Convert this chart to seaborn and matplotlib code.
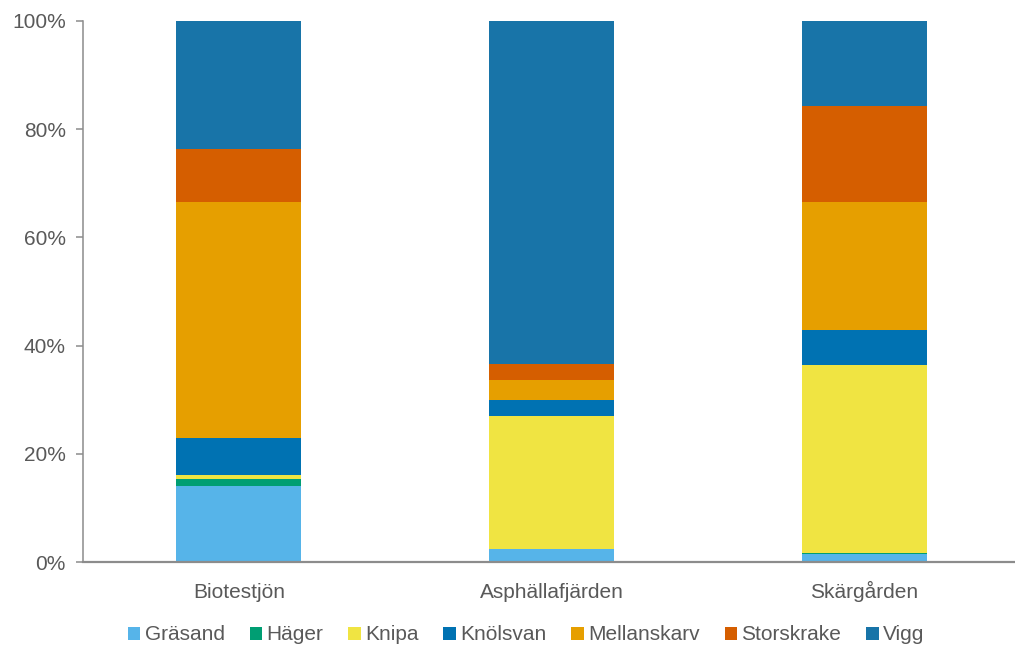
import matplotlib
matplotlib.use("Agg")
import matplotlib.pyplot as plt
from matplotlib.patches import Patch
from matplotlib.ticker import FuncFormatter, FixedLocator
import seaborn as sns
import numpy as np

sites = ["Biotestjön", "Asphällafjärden", "Skärgården"]
species = ["Gräsand", "Häger", "Knipa", "Knölsvan", "Mellanskarv", "Storskrake", "Vigg"]

# share of each species per site (%)
grasand = [14.0, 2.4, 1.4]
hager = [1.4, 0.0, 0.2]
knipa = [0.6, 24.5, 34.9]
knolsvan = [7.0, 3.1, 6.3]
mellanskarv = [43.5, 3.6, 23.7]
storskrake = [9.8, 3.0, 17.8]
vigg = [23.7, 63.4, 15.7]

series = [grasand, hager, knipa, knolsvan, mellanskarv, storskrake, vigg]
colors = ["#56B4E9", "#009E73", "#F0E442", "#0072B2", "#E69F00", "#D55E00", "#1874A8"]

sns.set_style("white")
plt.rcParams["font.family"] = ["Liberation Sans", "DejaVu Sans"]
text_color = "#595959"
axis_color = "#8C8C8C"
fs = 15

fig = plt.figure(figsize=(10.15, 6.52), dpi=100)
W, H = 1015, 652
ax = fig.add_axes([82.5 / W, (H - 562) / H, (1021 - 82.5) / W, (562 - 21) / H])

bottom = np.zeros(len(sites))
for name, vals, col in zip(species, series, colors):
    sns.barplot(x=sites, y=vals, bottom=bottom.copy(), color=col, width=0.4,
                saturation=1, ax=ax, linewidth=0, edgecolor="none")
    bottom += np.array(vals)

ax.set_xlim(-0.5, 2.5)
ax.set_ylim(0, 100)
ax.set_yticks([0, 20, 40, 60, 80, 100])
ax.yaxis.set_major_formatter(FuncFormatter(lambda v, p: f"{v:.0f}%"))
ax.set_xticks([0, 1, 2])
ax.set_xticklabels(sites, va="baseline")
ax.xaxis.set_minor_locator(FixedLocator([0.5, 1.5]))
ax.tick_params(axis="x", which="major", length=0, pad=26, labelsize=fs, colors=text_color)
ax.tick_params(axis="x", which="minor", length=6, width=1.3, color=axis_color, direction="out")
ax.tick_params(axis="y", length=5, width=1.1, color=axis_color, labelsize=fs,
               labelcolor=text_color, pad=7, left=True)
ax.set_xlabel("")
ax.set_ylabel("")
for s in ["top", "right"]:
    ax.spines[s].set_visible(False)
ax.spines["left"].set_color(axis_color)
ax.spines["left"].set_linewidth(1.1)
ax.spines["bottom"].set_color(axis_color)
ax.spines["bottom"].set_linewidth(1.6)
ax.spines["bottom"].set_zorder(5)

handles = [Patch(facecolor=c, edgecolor="none", label=n) for n, c in zip(species, colors)]
leg = fig.legend(handles=handles, loc="center", bbox_to_anchor=(526 / W, 1 - 635 / H),
                 ncol=7, frameon=False, fontsize=fs, handlelength=0.6, handleheight=0.6,
                 handletextpad=0.2, columnspacing=1.2)
for t in leg.get_texts():
    t.set_color(text_color)

fig.savefig("out.png", dpi=100)
